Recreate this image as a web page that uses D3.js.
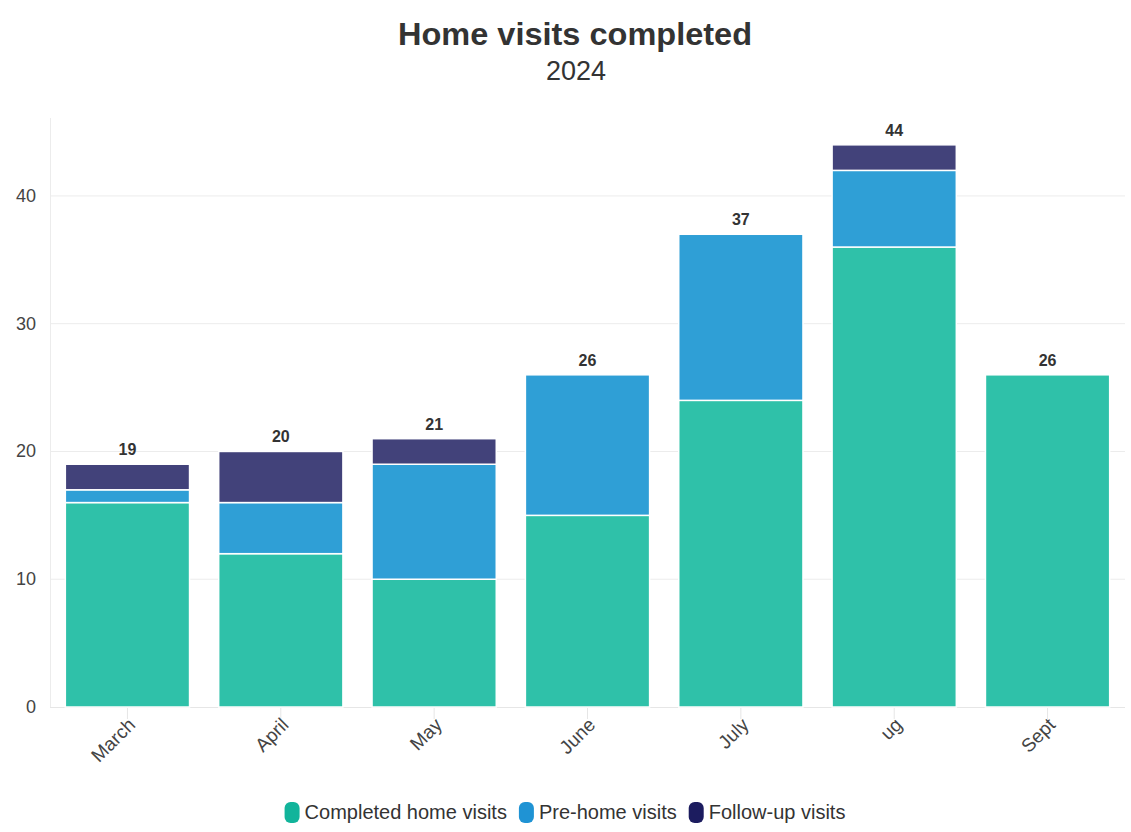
<!DOCTYPE html>
<html><head><meta charset="utf-8">
<script src="https://cdn.jsdelivr.net/npm/d3@7"></script>
<style>body{margin:0;background:#fff;font-family:"Liberation Sans",Arial,Helvetica,sans-serif;}</style>
</head><body><svg id="c" width="1131" height="832"></svg>
<script>
const categories = ["March","April","May","June","July","ug","Sept"];
const completed = [16,12,10,15,24,36,26];
const preHome = [1,4,9,11,13,6,0];
const followUp = [2,4,2,0,0,2,0];
const seriesNames = ["Completed home visits","Pre-home visits","Follow-up visits"];
const barColors = ["#2fc1a9","#2f9fd6","#42427a"];
const legendColors = ["#12b49b","#1f93d4","#1c1c5f"];
const yTicks = [0,10,20,30,40];

const svg = d3.select("#c");
const font = '"Liberation Sans",Arial,Helvetica,sans-serif';
const M = {l:50, r:1125, t:118, b:707};
const x = d3.scaleBand().domain(categories).range([M.l, M.r]).paddingInner(0.19).paddingOuter(0.1);
const y = d3.scaleLinear().domain([0,46.1]).range([M.b, M.t]);

svg.append("text").attr("x",575).attr("y",45).attr("text-anchor","middle")
  .attr("font-family",font).attr("font-size",32).attr("font-weight","bold").attr("fill","#333")
  .attr("textLength",354).attr("lengthAdjust","spacingAndGlyphs").text("Home visits completed");
svg.append("text").attr("x",576).attr("y",80).attr("text-anchor","middle")
  .attr("font-family",font).attr("font-size",27).attr("fill","#333").text("2024");

// grid
svg.append("g").selectAll("line").data(yTicks.slice(1)).join("line")
  .attr("x1",M.l).attr("x2",M.r).attr("y1",d=>y(d)).attr("y2",d=>y(d))
  .attr("stroke","#ececec").attr("stroke-width",1);
svg.append("line").attr("x1",M.l+0.5).attr("x2",M.l+0.5).attr("y1",M.t).attr("y2",M.b).attr("stroke","#ececec");
svg.append("g").selectAll("text").data(yTicks).join("text")
  .attr("x",36).attr("y",d=>y(d)+6).attr("text-anchor","end")
  .attr("font-family",font).attr("font-size",18).attr("fill","#444").text(d=>d);

// x axis
svg.append("line").attr("x1",M.l).attr("x2",M.r).attr("y1",M.b+0.5).attr("y2",M.b+0.5).attr("stroke","#e6e6e6");
svg.append("g").selectAll("line").data(categories).join("line")
  .attr("x1",d=>x(d)+x.bandwidth()/2).attr("x2",d=>x(d)+x.bandwidth()/2)
  .attr("y1",M.b).attr("y2",M.b+12).attr("stroke","#e6e6e6");
svg.append("g").selectAll("text").data(categories).join("text")
  .attr("transform",d=>`translate(${x(d)+x.bandwidth()/2+9},${M.b+19}) rotate(-45)`)
  .attr("text-anchor","end").attr("font-family",font).attr("font-size",19).attr("fill","#444").text(d=>d);

// stack
const rows = categories.map((c,i)=>({cat:c, s0:completed[i], s1:preHome[i], s2:followUp[i]}));
const stack = d3.stack().keys(["s0","s1","s2"])(rows);
svg.append("g").selectAll("g").data(stack).join("g").attr("fill",(d,i)=>barColors[i])
  .selectAll("rect").data(d=>d.filter(p=>p[1]>p[0])).join("rect")
  .attr("x",d=>x(d.data.cat)).attr("width",x.bandwidth())
  .attr("y",d=>y(d[1])).attr("height",d=>y(d[0])-y(d[1]))
  .attr("stroke","#fff").attr("stroke-width",1.5);

// totals
svg.append("g").selectAll("text").data(rows).join("text")
  .attr("x",d=>x(d.cat)+x.bandwidth()/2).attr("y",d=>y(d.s0+d.s1+d.s2)-9)
  .attr("text-anchor","middle").attr("font-family",font).attr("font-size",16).attr("font-weight","bold").attr("fill","#333")
  .text(d=>d.s0+d.s1+d.s2);

// legend
const lg = svg.append("g");
let lx = 0;
seriesNames.forEach((n,i)=>{
  const g = lg.append("g").attr("transform",`translate(${lx},0)`);
  g.append("rect").attr("x",0).attr("y",-10).attr("width",15).attr("height",21).attr("rx",6).attr("fill",legendColors[i]);
  const t = g.append("text").attr("x",20).attr("y",7).attr("font-family",font).attr("font-size",20).attr("fill","#333").text(n);
  lx += 20 + t.node().getComputedTextLength() + 12;
});
lg.attr("transform",`translate(${565 - (lx-12)/2},812)`);
</script></body></html>
